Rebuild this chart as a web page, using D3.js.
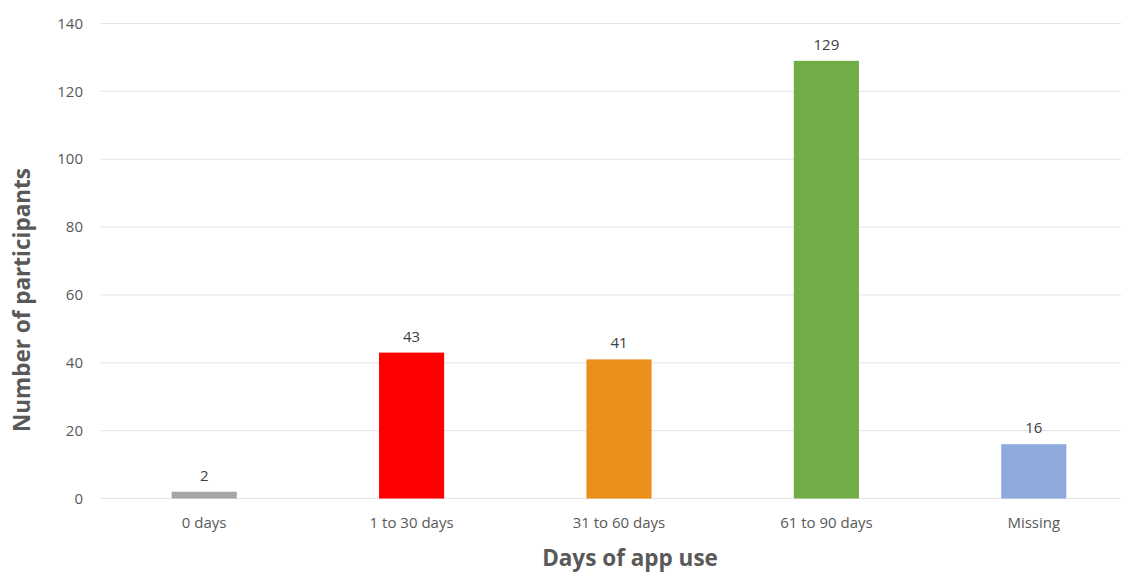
<!DOCTYPE html>
<html>
<head>
<meta charset="utf-8">
<script src="https://cdn.jsdelivr.net/npm/d3@7"></script>
<style>
  body { margin: 0; background: #fff; }
  text { font-family: "Open Sans", sans-serif; }
</style>
</head>
<body>
<div id="chart"></div>
<script>
var categories = ["0 days", "1 to 30 days", "31 to 60 days", "61 to 90 days", "Missing"];
var participants = [2, 43, 41, 129, 16];
var barColors = ["#A9A5A5", "#FF0000", "#EA8F1A", "#70AD47", "#8EA9DB"];
var yTicks = [0, 20, 40, 60, 80, 100, 120, 140];

function init() {
    var w = 1121;
    var h = 572;

    var svg = d3.select("#chart")
                .append("svg")
                .attr("width", w)
                .attr("height", h);

    var x = d3.scaleBand()
              .domain(categories)
              .range([100.5, 1137.5])
              .paddingInner(0.686)
              .paddingOuter(0.343);

    var y = d3.scaleLinear()
              .domain([0, 140])
              .range([498.5, 23.5]);

    // gridlines
    svg.append("g")
       .selectAll("line")
       .data(yTicks)
       .enter()
       .append("line")
       .attr("x1", 100.5)
       .attr("x2", 1137.5)
       .attr("y1", function(d) { return y(d); })
       .attr("y2", function(d) { return y(d); })
       .attr("stroke", "#E3E3E3")
       .attr("stroke-width", 1);

    // y tick labels
    svg.append("g")
       .selectAll("text")
       .data(yTicks)
       .enter()
       .append("text")
       .attr("x", 83)
       .attr("y", function(d) { return y(d); })
       .attr("dy", "0.35em")
       .attr("text-anchor", "end")
       .attr("font-size", 15)
       .attr("fill", "#595959")
       .text(function(d) { return d; });

    // bars
    svg.append("g")
       .selectAll("rect")
       .data(participants)
       .enter()
       .append("rect")
       .attr("x", function(d, i) { return x(categories[i]); })
       .attr("y", function(d) { return y(d); })
       .attr("width", x.bandwidth())
       .attr("height", function(d) { return y(0) - y(d); })
       .attr("fill", function(d, i) { return barColors[i]; });

    // value labels
    svg.append("g")
       .selectAll("text")
       .data(participants)
       .enter()
       .append("text")
       .attr("x", function(d, i) { return x(categories[i]) + x.bandwidth() / 2; })
       .attr("y", function(d) { return y(d) - 11; })
       .attr("text-anchor", "middle")
       .attr("font-size", 15)
       .attr("fill", "#404040")
       .text(function(d) { return d; });

    // category labels
    svg.append("g")
       .selectAll("text")
       .data(categories)
       .enter()
       .append("text")
       .attr("x", function(d) { return x(d) + x.bandwidth() / 2; })
       .attr("y", 528)
       .attr("text-anchor", "middle")
       .attr("font-size", 15)
       .attr("fill", "#595959")
       .text(function(d) { return d; });

    // axis titles
    svg.append("text")
       .attr("x", 630)
       .attr("y", 566)
       .attr("text-anchor", "middle")
       .attr("font-size", 22.5)
       .attr("font-weight", "bold")
       .attr("fill", "#595959")
       .text("Days of app use");

    svg.append("text")
       .attr("transform", "translate(30,300) rotate(-90)")
       .attr("text-anchor", "middle")
       .attr("font-size", 22.5)
       .attr("font-weight", "bold")
       .attr("fill", "#595959")
       .text("Number of participants");
}

window.onload = init;
</script>
</body>
</html>
